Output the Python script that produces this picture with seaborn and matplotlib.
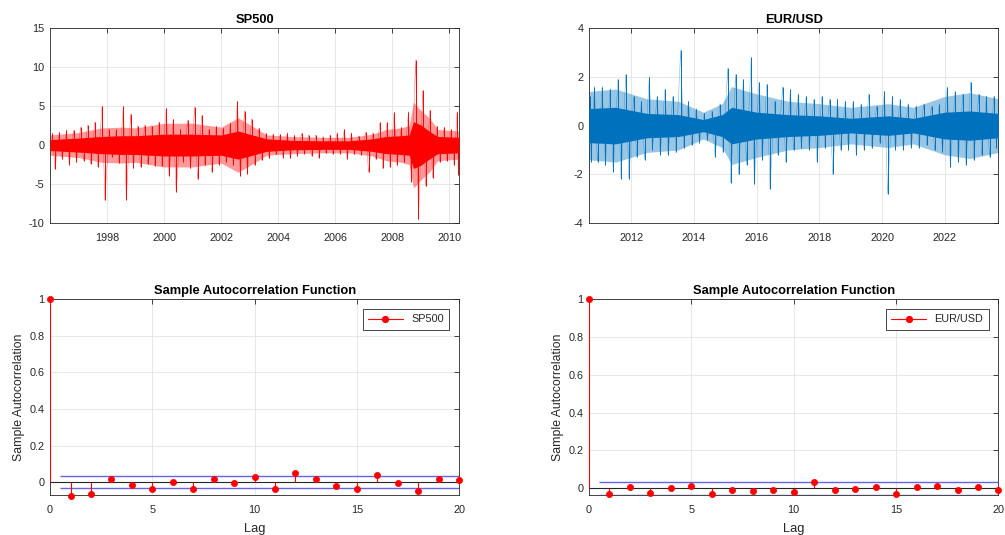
import numpy as np
import pandas as pd
import matplotlib
matplotlib.use("Agg")
import matplotlib.pyplot as plt
from matplotlib.lines import Line2D
from matplotlib.ticker import FuncFormatter
import seaborn as sns

# ---------------------------------------------------------------------------
# Daily returns (%), summarised per calendar quarter by their swing extremes
# ---------------------------------------------------------------------------
sp_start, sp_end = 1996.0, 2010.35
sp_high = [1.5, 1.7, 1.9, 1.9,
           2.3, 2.6, 3.0, 5.0,
           2.0, 2.0, 5.0, 4.0,
           2.5, 2.6, 2.5, 3.0,
           4.7, 3.3, 2.0, 3.2,
           4.9, 3.8, 2.0, 2.4,
           2.2, 2.8, 5.6, 4.4,
           3.4, 2.2, 1.5, 1.4,
           1.4, 1.6, 1.3, 1.5,
           1.3, 1.3, 1.1, 1.3,
           1.6, 2.0, 1.6, 1.2,
           1.7, 1.6, 2.9, 2.9,
           4.2, 2.3, 4.3, 10.9,
           7.0, 4.5, 2.5, 2.3,
           2.0, 4.3]
sp_low = [-3.1, -1.8, -2.5, -2.2,
          -2.0, -2.4, -2.8, -7.1,
          -1.5, -2.3, -7.0, -3.0,
          -2.8, -2.4, -2.7, -2.7,
          -3.9, -6.0, -2.2, -3.0,
          -4.4, -2.5, -3.5, -2.5,
          -2.2, -2.6, -4.0, -3.7,
          -2.6, -1.9, -1.6, -1.2,
          -1.6, -1.7, -1.4, -1.1,
          -1.4, -1.6, -1.0, -1.2,
          -1.1, -1.8, -1.2, -1.3,
          -3.5, -1.8, -3.0, -2.8,
          -2.6, -2.2, -4.7, -9.5,
          -5.3, -4.2, -2.2, -2.0,
          -2.6, -3.8]
# solid core of the return cloud and its fuzzy outer edge (half-widths)
sp_band_t = [1996.0, 1997.0, 1997.8, 1998.5, 1999.0, 2000.0, 2001.0, 2002.0,
             2002.6, 2003.2, 2003.6, 2004.5, 2005.5, 2006.5, 2007.3, 2007.8,
             2008.3, 2008.6, 2008.75, 2009.0, 2009.3, 2009.6, 2010.35]
sp_core = [0.7, 0.9, 1.1, 1.2, 1.2, 1.4, 1.4, 1.3,
           1.8, 1.2, 0.8, 0.6, 0.55, 0.55, 0.8, 1.1,
           1.2, 1.3, 3.0, 2.6, 1.8, 1.1, 1.0]
sp_outer = [1.3, 1.6, 2.2, 2.3, 2.2, 2.8, 2.8, 2.3,
            3.5, 2.2, 1.3, 1.1, 1.0, 1.0, 1.4, 2.0,
            2.2, 2.5, 5.5, 4.5, 3.5, 2.0, 1.8]

eu_start, eu_end = 2010.65, 2023.71
eu_high = [1.2, 1.6,
           1.6, 1.5, 1.9, 2.1,
           1.2, 1.0, 2.0, 1.2,
           1.5, 1.2, 3.1, 1.0,
           0.7, 0.5, 0.6, 0.9,
           2.35, 2.1, 1.9, 2.8,
           1.8, 1.7, 1.0, 1.6,
           1.5, 1.3, 1.2, 1.1,
           1.2, 1.1, 1.1, 1.0,
           1.0, 0.9, 1.3, 0.8,
           1.4, 1.2, 1.1, 0.9,
           0.8, 0.9, 0.8, 0.9,
           1.6, 1.4, 1.3, 1.8,
           1.3, 1.2, 1.2]
eu_low = [-1.5, -1.5,
          -1.6, -1.9, -2.2, -2.2,
          -1.3, -1.4, -1.0, -1.2,
          -1.2, -1.1, -0.9, -0.8,
          -0.7, -0.6, -1.3, -1.1,
          -2.35, -2.0, -1.6, -2.4,
          -1.4, -2.6, -1.2, -1.5,
          -1.0, -0.9, -1.0, -1.5,
          -0.9, -2.0, -1.0, -1.0,
          -1.2, -1.0, -0.9, -0.7,
          -2.8, -1.0, -1.0, -0.9,
          -0.9, -0.8, -1.0, -1.1,
          -1.7, -1.5, -1.6, -1.4,
          -1.2, -1.3, -0.9]
eu_band_t = [2010.65, 2011.5, 2012.5, 2013.5, 2014.3, 2014.9, 2015.2, 2016.0,
             2017.0, 2018.0, 2019.0, 2020.2, 2021.0, 2022.0, 2022.8, 2023.71]
eu_core = [0.7, 0.75, 0.5, 0.45, 0.25, 0.45, 0.75, 0.55,
           0.45, 0.4, 0.3, 0.4, 0.3, 0.55, 0.6, 0.5]
eu_outer = [1.4, 1.5, 1.1, 1.0, 0.55, 0.9, 1.6, 1.3,
            1.0, 0.9, 0.75, 0.9, 0.75, 1.2, 1.35, 1.1]

# Sample autocorrelation, lags 0..20, and the 95% confidence bounds
lags = list(range(21))
sp_acf = [1.0, -0.073, -0.066, 0.018, -0.015, -0.035, 0.004, -0.038, 0.020,
          -0.002, 0.029, -0.038, 0.053, 0.018, -0.022, -0.038, 0.040, -0.004,
          -0.046, 0.020, 0.011]
sp_bound = 0.033
eu_acf = [1.0, -0.030, 0.004, -0.023, 0.000, 0.009, -0.032, -0.007, -0.014,
          -0.011, -0.018, 0.032, -0.009, -0.004, 0.007, -0.030, 0.007, 0.012,
          -0.009, 0.005, -0.009]
eu_bound = 0.035

RED = "#FF0000"
BLUE = "#0072BD"
AXC = "#262626"


def swing_frame(start, end, high, low):
    """Place each quarter's high and low swing at two dates in the quarter."""
    q0 = np.floor(start * 4) / 4
    qs = q0 + 0.25 * np.arange(len(high))
    rows = []
    for q, h, l in zip(qs, high, low):
        a = max(q, start)
        b = min(q + 0.25, end)
        span = b - a
        rows.append((a + 0.3 * span, h))
        rows.append((a + 0.7 * span, l))
    return pd.DataFrame(rows, columns=["t", "r"])


def matlab_axes(ax):
    ax.set_facecolor("white")
    for s in ax.spines.values():
        s.set_visible(True)
        s.set_color(AXC)
        s.set_linewidth(0.6)
    ax.tick_params(direction="in", length=3.5, width=0.6, colors=AXC,
                   labelcolor=AXC, labelsize=7.8, top=True, right=True,
                   labeltop=False, labelright=False)
    ax.tick_params(axis="x", pad=7)
    ax.tick_params(axis="y", pad=4)
    ax.grid(True, color="#e3e3e3", linewidth=0.6)
    ax.set_axisbelow(True)


sns.set_theme(style="whitegrid")
plt.rcParams["font.family"] = ["Liberation Sans", "DejaVu Sans"]
plt.rcParams["axes.unicode_minus"] = False

fig = plt.figure(figsize=(10.05, 5.35), dpi=100)
fig.patch.set_facecolor("white")

ax1 = fig.add_axes([0.0498, 0.583, 0.407, 0.3645])
ax2 = fig.add_axes([0.586, 0.583, 0.4075, 0.3645])
ax3 = fig.add_axes([0.0498, 0.0748, 0.407, 0.366])
ax4 = fig.add_axes([0.586, 0.0748, 0.4075, 0.366])


def returns_panel(ax, start, end, high, low, band_t, core, outer, color,
                  title, ylim, yticks, xticks):
    matlab_axes(ax)
    core = np.asarray(core)
    outer = np.asarray(outer)
    ax.fill_between(band_t, -outer, outer, color=color, alpha=0.4, lw=0,
                    zorder=2)
    ax.fill_between(band_t, -core, core, color=color, lw=0, zorder=3)
    df = swing_frame(start, end, high, low)
    ax.vlines(df["t"], 0, df["r"], color=color, lw=0.7, zorder=4)
    sns.lineplot(data=df, x="t", y="r", color=color, lw=0.35, alpha=0.55,
                 sort=False, estimator=None, ax=ax, zorder=4)
    ax.set_xlim(start, end)
    ax.set_ylim(*ylim)
    ax.set_yticks(yticks)
    ax.set_xticks(xticks)
    ax.xaxis.set_major_formatter(FuncFormatter(lambda v, p: f"{int(round(v))}"))
    ax.set_xlabel("")
    ax.set_ylabel("")
    ax.set_title(title, fontsize=9.3, fontweight="bold", color="black", pad=4)


returns_panel(ax1, sp_start, sp_end, sp_high, sp_low, sp_band_t, sp_core,
              sp_outer, RED, "SP500", (-10, 15), range(-10, 16, 5),
              range(1998, 2011, 2))
returns_panel(ax2, eu_start, eu_end, eu_high, eu_low, eu_band_t, eu_core,
              eu_outer, BLUE, "EUR/USD", (-4, 4), range(-4, 5, 2),
              range(2012, 2023, 2))


def acf_panel(ax, acf, bound, label, ylow):
    matlab_axes(ax)
    ax.axhline(0, color=AXC, lw=0.8, zorder=2)
    ax.hlines([bound, -bound], 0.5, 20, color="#6464E8", lw=1.0, zorder=2)
    ax.vlines(lags, 0, acf, color=RED, lw=0.8, zorder=3)
    sns.scatterplot(x=lags, y=acf, color=RED, edgecolor=RED, s=20,
                    linewidth=0.5, ax=ax, zorder=4, clip_on=False)
    ax.set_xlim(0, 20)
    ax.set_ylim(ylow, 1)
    ax.set_xticks(range(0, 21, 5))
    ax.set_yticks(np.arange(0, 1.01, 0.2))
    ax.yaxis.set_major_formatter(FuncFormatter(lambda v, p: f"{v:g}"))
    ax.set_xlabel("Lag", fontsize=9.3, color=AXC, labelpad=6)
    ax.set_ylabel("Sample Autocorrelation", fontsize=8.8, color=AXC,
                  labelpad=3)
    ax.set_title("Sample Autocorrelation Function", fontsize=9.3,
                 fontweight="bold", color="black", pad=4)
    handle = Line2D([0], [0], color=RED, lw=0.8, marker="o", ms=4.2,
                    markerfacecolor=RED, markeredgecolor=RED)
    leg = ax.legend([handle], [label], loc="upper right", fontsize=7.8,
                    frameon=True, fancybox=False, framealpha=1,
                    edgecolor=AXC, handlelength=3.2, borderaxespad=0.9,
                    borderpad=0.5)
    leg.get_frame().set_linewidth(0.6)


acf_panel(ax3, sp_acf, sp_bound, "SP500", -0.069)
acf_panel(ax4, eu_acf, eu_bound, "EUR/USD", -0.036)

fig.savefig("out.png", dpi=100, facecolor="white")
